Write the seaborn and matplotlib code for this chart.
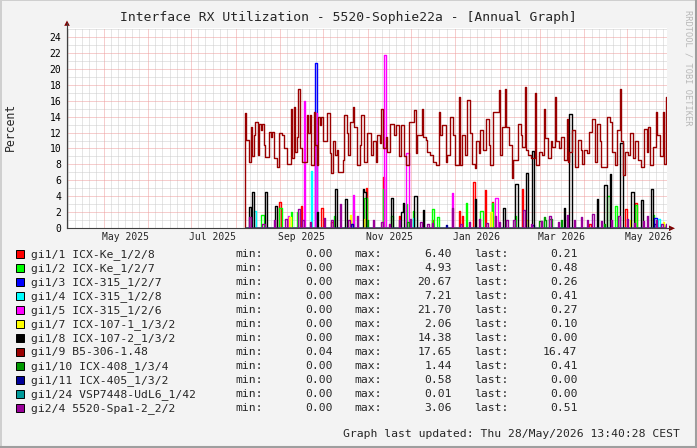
import numpy as np
import pandas as pd
import matplotlib
matplotlib.use("Agg")
import matplotlib.pyplot as plt
import matplotlib.dates as mdates
import matplotlib.transforms as mtransforms
from matplotlib.patches import Rectangle, Polygon
from matplotlib.lines import Line2D
import seaborn as sns
from datetime import datetime, timedelta

sns.set_theme(style="white")
plt.rcParams["font.family"] = ["DejaVu Sans Mono"]

# ---------------- data ----------------
series_names = [
    "gi1/1 ICX-Ke_1/2/8", "gi1/2 ICX-Ke_1/2/7", "gi1/3 ICX-315_1/2/7",
    "gi1/4 ICX-315_1/2/8", "gi1/5 ICX-315_1/2/6", "gi1/7 ICX-107-1_1/3/2",
    "gi1/8 ICX-107-2_1/3/2", "gi1/9 B5-306-1.48", "gi1/10 ICX-408_1/3/4",
    "gi1/11 ICX-405_1/3/2", "gi1/24 VSP7448-UdL6_1/42", "gi2/4 5520-Spa1-2_2/2",
]
series_colors = ["#FF0000", "#00FF00", "#0000FF", "#00FFFF", "#FF00FF", "#FFFF00",
                 "#000000", "#990000", "#009900", "#000099", "#009999", "#990099"]
legend_min = ["0.00", "0.00", "0.00", "0.00", "0.00", "0.00",
              "0.00", "0.04", "0.00", "0.00", "0.00", "0.00"]
legend_max = ["6.40", "4.93", "20.67", "7.21", "21.70", "2.06",
              "14.38", "17.65", "1.44", "0.58", "0.01", "3.06"]
legend_last = ["0.21", "0.48", "0.26", "0.41", "0.27", "0.10",
               "0.00", "16.47", "0.41", "0.00", "0.00", "0.51"]

title = "Interface RX Utilization - 5520-Sophie22a - [Annual Graph]"
footer = "Graph last updated: Thu 28/May/2026 13:40:28 CEST"
watermark = "RRDTOOL / TOBI OETIKER"
y_label = "Percent"

data_start = datetime(2025, 8, 7, 13, 40)
graph_end = datetime(2026, 5, 28, 13, 40)
graph_days = 418
n_days = 294

x_label_dates = ["2025-05-16", "2025-07-16", "2025-09-16", "2025-11-16",
                 "2026-01-16", "2026-03-16", "2026-05-16"]

b5_first = 0.04
b5_daily = [
    14.4, 11.1, 11.1, 8.3, 12.7, 9.0, 11.7, 13.3, 13.3, 9.2,
    13.1, 12.3, 13.1, 10.4, 8.9, 8.9, 8.9, 12.1, 11.5, 12.1,
    8.8, 8.8, 7.7, 7.7, 12.0, 12.0, 11.7, 10.0, 10.0, 8.1,
    8.1, 8.1, 15.0, 8.8, 15.2, 9.6, 11.5, 17.5, 10.0, 10.0,
    8.3, 8.3, 8.3, 14.2, 12.0, 14.2, 7.9, 7.9, 14.6, 10.5,
    7.9, 14.0, 13.0, 14.0, 10.9, 10.9, 10.9, 14.4, 14.4, 9.4,
    6.9, 10.9, 10.9, 9.2, 9.8, 7.0, 7.0, 7.0, 8.5, 14.2,
    14.2, 12.0, 9.2, 13.3, 13.3, 15.2, 12.7, 12.7, 7.9, 7.9,
    10.4, 14.2, 14.2, 8.3, 8.3, 12.0, 12.0, 12.0, 9.2, 10.9,
    10.9, 8.3, 11.7, 11.7, 10.7, 15.0, 10.0, 10.0, 11.5, 9.6,
    9.6, 13.1, 13.1, 13.1, 11.7, 12.9, 12.9, 9.0, 9.0, 12.9,
    12.9, 9.0, 7.9, 7.9, 13.3, 13.3, 13.3, 13.3, 14.8, 9.4,
    11.7, 11.7, 11.7, 15.0, 11.5, 11.5, 11.1, 9.6, 9.6, 9.2,
    9.2, 8.3, 8.3, 7.9, 7.9, 14.6, 11.7, 12.9, 12.9, 12.9,
    8.3, 9.2, 9.2, 14.0, 14.0, 11.7, 7.9, 7.9, 7.9, 16.5,
    7.9, 11.7, 11.7, 9.2, 9.2, 16.1, 16.1, 12.0, 8.1, 8.1,
    7.5, 10.9, 10.9, 9.4, 12.3, 12.3, 9.8, 9.8, 13.7, 13.7,
    10.4, 7.9, 7.9, 14.6, 14.6, 14.6, 14.6, 17.3, 9.2, 12.7,
    12.7, 17.5, 12.7, 12.7, 10.4, 10.4, 6.3, 8.5, 8.5, 8.5,
    13.1, 13.1, 11.7, 10.2, 10.2, 17.65, 9.8, 9.2, 9.2, 8.8,
    8.8, 8.8, 16.9, 7.9, 7.9, 9.6, 9.6, 9.2, 15.0, 11.3,
    11.3, 8.8, 8.8, 10.9, 10.2, 10.2, 16.5, 10.9, 10.9, 10.0,
    11.5, 11.5, 8.5, 8.5, 13.7, 8.3, 9.6, 9.6, 12.3, 12.3,
    7.7, 7.7, 11.1, 11.1, 9.8, 8.1, 9.8, 9.8, 9.4, 9.4,
    12.1, 12.1, 13.7, 13.7, 8.3, 13.1, 13.1, 10.9, 7.7, 7.7,
    7.7, 7.7, 14.0, 14.0, 13.3, 13.3, 9.6, 9.6, 7.9, 12.3,
    12.3, 17.5, 10.9, 6.7, 6.7, 9.6, 9.6, 9.2, 12.0, 12.0,
    8.8, 8.8, 10.9, 10.9, 8.5, 8.5, 7.7, 7.7, 12.5, 12.5,
    9.6, 12.7, 7.9, 7.9, 10.2, 10.2, 14.6, 11.7, 11.7, 9.0,
    9.0, 14.6, 8.0, 16.47,
]

# sparse daily values (day index -> percent), all other days are 0
red_days = {24: 3.3, 39: 2.8, 53: 2.5, 60: 0.8, 84: 5.0, 96: 6.40, 107: 1.5, 130: 1.0,
            149: 2.2, 151: 1.5, 159: 5.75, 167: 4.8, 172: 3.3, 193: 4.9, 240: 0.6,
            265: 2.4, 272: 3.2, 293: 0.21}
lime_days = {11: 1.7, 12: 1.7, 24: 2.6, 25: 2.6, 32: 2.1, 36: 2.0, 62: 1.5, 75: 2.3,
             83: 3.8, 84: 3.8, 96: 4.93, 102: 1.5, 112: 3.0, 117: 2.2, 130: 2.4, 131: 2.4,
             134: 1.4, 154: 3.2, 164: 2.2, 165: 2.2, 172: 3.2, 188: 1.5, 252: 4.0,
             253: 4.0, 258: 2.8, 272: 2.9, 284: 1.7, 293: 0.48}
blue_days = {49: 20.67, 74: 0.5, 200: 0.4, 285: 1.3, 286: 1.3, 293: 0.26}
cyan_days = {6: 2.2, 7: 2.2, 46: 7.21, 117: 1.3, 288: 1.2, 293: 0.41}
magenta_days = {30: 1.5, 41: 15.95, 49: 14.5, 75: 4.2, 97: 21.70, 112: 9.4, 113: 9.4,
                144: 4.4, 174: 3.8, 175: 3.8, 293: 0.27}
yellow_days = {31: 1.4, 73: 1.7, 83: 1.2, 171: 2.06, 196: 1.0, 268: 1.0, 291: 0.8,
               293: 0.10}
black_days = {3: 2.7, 5: 4.5, 14: 4.5, 21: 2.8, 50: 2.0, 63: 4.9, 70: 3.7, 82: 4.9,
              83: 4.6, 102: 3.8, 109: 2.1, 110: 3.2, 118: 4.0, 119: 4.0, 124: 2.3,
              160: 3.7, 180: 2.6, 188: 5.5, 189: 5.5, 196: 6.9, 200: 9.7, 222: 2.6,
              226: 14.38, 227: 14.38, 245: 3.7, 250: 5.4, 251: 5.4, 254: 6.8,
              261: 10.7, 262: 10.7, 269: 4.5, 270: 4.5, 276: 3.6, 283: 4.9}
green_days = {85: 1.0, 113: 0.8, 205: 0.9, 206: 0.9, 208: 1.44, 209: 1.0, 212: 1.2,
              213: 1.2, 220: 1.0, 250: 0.5, 293: 0.41}
navy_days = {74: 0.58, 140: 0.4, 285: 0.5}
teal_days = {150: 0.01}
purple_days = {3: 1.45, 12: 0.6, 13: 0.6, 20: 1.0, 28: 1.2, 37: 2.4, 40: 1.0, 45: 0.8,
               55: 1.3, 60: 1.0, 66: 3.06, 72: 1.0, 78: 1.5, 89: 1.0, 95: 0.8, 100: 0.6,
               107: 1.0, 115: 1.2, 122: 0.8, 127: 0.6, 130: 0.7, 144: 2.5, 150: 0.5,
               156: 0.8, 163: 1.2, 168: 0.7, 174: 1.5, 177: 0.8, 182: 1.1, 187: 1.0,
               194: 2.3, 199: 0.6, 206: 0.9, 212: 1.6, 218: 0.8, 224: 1.7, 229: 1.0,
               234: 1.4, 238: 1.0, 242: 1.8, 248: 0.9, 255: 1.0, 260: 1.6, 266: 1.2,
               271: 0.7, 277: 0.9, 280: 1.5, 286: 1.0, 290: 0.6, 293: 0.51}


def expand(sparse):
    arr = np.zeros(n_days)
    for k, v in sparse.items():
        arr[k] = v
    return arr


series_values = [expand(red_days), expand(lime_days), expand(blue_days), expand(cyan_days),
                 expand(magenta_days), expand(yellow_days), expand(black_days),
                 np.array(b5_daily), expand(green_days), expand(navy_days),
                 expand(teal_days), expand(purple_days)]
first_values = [0.0] * 12
first_values[7] = b5_first

times = [data_start + timedelta(days=i) for i in range(n_days + 1)]
frames = []
for name, first, vals in zip(series_names, first_values, series_values):
    frames.append(pd.DataFrame({"time": times,
                                "value": np.concatenate([[first], vals]),
                                "series": name}))
df = pd.concat(frames, ignore_index=True)

# ---------------- figure ----------------
W, H = 697, 448
fig = plt.figure(figsize=(W / 100, H / 100), dpi=100)
fig.patch.set_facecolor("#F3F3F3")


def fx(x):
    return x / W


def fy(y):
    return 1 - y / H


L, R, T, B = 67, 667, 28.3, 228.3
ax = fig.add_axes([fx(L), fy(B), (R - L) / W, (B - T) / H])
ax.set_facecolor("white")

sns.lineplot(data=df, x="time", y="value", hue="series", hue_order=series_names,
             palette=dict(zip(series_names, series_colors)), estimator=None,
             sort=False, drawstyle="steps-pre", linewidth=1.0, legend=False, ax=ax,
             zorder=3)

ax.set_xlim(graph_end - timedelta(days=graph_days), graph_end)
ax.set_ylim(0, 25.06)
ax.set_xlabel("")
ax.set_ylabel("")

# grid
x0, x1 = ax.get_xlim()
dots = (0, (1, 1))
for m in pd.date_range("2025-04-01", "2026-06-01", freq="MS"):
    for d in [6, 11, 16, 21, 26]:
        xd = mdates.date2num(m + pd.Timedelta(days=d - 1))
        if x0 < xd < x1:
            ax.axvline(xd, color="#CCCCCC", lw=0.72, ls=dots, zorder=1)
    xm = mdates.date2num(m)
    if x0 < xm < x1:
        ax.axvline(xm, color="#EE9C9C", lw=0.72, ls=dots, zorder=1.5)
for yv in range(1, 26):
    ax.axhline(yv, color="#EE9C9C" if yv % 2 == 0 else "#CCCCCC", lw=0.72, ls=dots,
               zorder=1.5 if yv % 2 == 0 else 1)

# spines / ticks
for s in ["top", "right"]:
    ax.spines[s].set_visible(False)
for s in ["left", "bottom"]:
    ax.spines[s].set_color("#404040")
    ax.spines[s].set_linewidth(0.8)
    ax.spines[s].set_zorder(4)

ax.set_yticks(range(0, 25, 2))
ax.set_yticks(range(0, 26), minor=True)
ax.set_yticklabels([str(v) for v in range(0, 25, 2)], fontsize=7)
ax.xaxis.set_major_locator(mdates.MonthLocator())
ax.xaxis.set_minor_locator(mdates.DayLocator(bymonthday=[6, 11, 16, 21, 26]))
ax.set_xticklabels([])
ax.tick_params(axis="both", which="both", direction="out", length=1.6, width=0.6,
               color="#404040", pad=2.5, labelcolor="black")
ax.tick_params(axis="x", which="both", labelbottom=False)

trans = mtransforms.blended_transform_factory(ax.transData, ax.transAxes)
for d in x_label_dates:
    dt = pd.Timestamp(d)
    ax.text(mdates.date2num(dt), -9 / 200, dt.strftime("%b %Y"), transform=trans,
            ha="center", va="center", fontsize=7)

# axis arrows
arrow_col = "#7F0000"
fig.add_artist(Line2D([fx(L), fx(L)], [fy(B), fy(23)], color="#404040", lw=0.8,
                      transform=fig.transFigure))
fig.add_artist(Polygon([(fx(L - 2.8), fy(25.8)), (fx(L + 2.8), fy(25.8)), (fx(L), fy(20.5))],
                       closed=True, transform=fig.transFigure, color=arrow_col, lw=0))
fig.add_artist(Line2D([fx(R), fx(670)], [fy(B), fy(B)], color="#404040", lw=0.8,
                      transform=fig.transFigure))
fig.add_artist(Polygon([(fx(669), fy(B - 2.8)), (fx(669), fy(B + 2.8)), (fx(675), fy(B))],
                       closed=True, transform=fig.transFigure, color=arrow_col, lw=0))

# texts
fig.text(fx(348), fy(18), title, ha="center", va="center", fontsize=9.4)
fig.text(fx(10.5), fy(127), y_label, ha="center", va="center", rotation=90, fontsize=8.3)
fig.text(fx(688), fy(68), watermark, ha="center", va="center", rotation=270,
         fontsize=6.2, color="#B8B8B8")

fs = 8.2
for i, (name, col) in enumerate(zip(series_names, series_colors)):
    yc = 254.3 + 14 * i
    fig.add_artist(Rectangle((fx(16), fy(yc + 4)), 8 / W, 8 / H, transform=fig.transFigure,
                             facecolor=col, edgecolor="black", lw=0.7))
    fig.text(fx(31), fy(yc), name, ha="left", va="center", fontsize=fs)
    fig.text(fx(235), fy(yc), "min:", ha="left", va="center", fontsize=fs)
    fig.text(fx(332.5), fy(yc), legend_min[i], ha="right", va="center", fontsize=fs)
    fig.text(fx(354), fy(yc), "max:", ha="left", va="center", fontsize=fs)
    fig.text(fx(452), fy(yc), legend_max[i], ha="right", va="center", fontsize=fs)
    fig.text(fx(474), fy(yc), "last:", ha="left", va="center", fontsize=fs)
    fig.text(fx(577.5), fy(yc), legend_last[i], ha="right", va="center", fontsize=fs)
fig.text(fx(680), fy(434.3), footer, ha="right", va="center", fontsize=fs)

# 3D frame
fig.add_artist(Line2D([0, 1], [fy(0.5), fy(0.5)], color="#CFCFCF", lw=1.4, transform=fig.transFigure))
fig.add_artist(Line2D([fx(0.5), fx(0.5)], [0, 1], color="#CFCFCF", lw=1.4, transform=fig.transFigure))
fig.add_artist(Line2D([0, 1], [fy(447), fy(447)], color="#9E9E9E", lw=1.5, transform=fig.transFigure))
fig.add_artist(Line2D([fx(696), fx(696)], [0, 1], color="#9E9E9E", lw=1.5, transform=fig.transFigure))

fig.savefig("out.png", dpi=100, facecolor=fig.get_facecolor())
